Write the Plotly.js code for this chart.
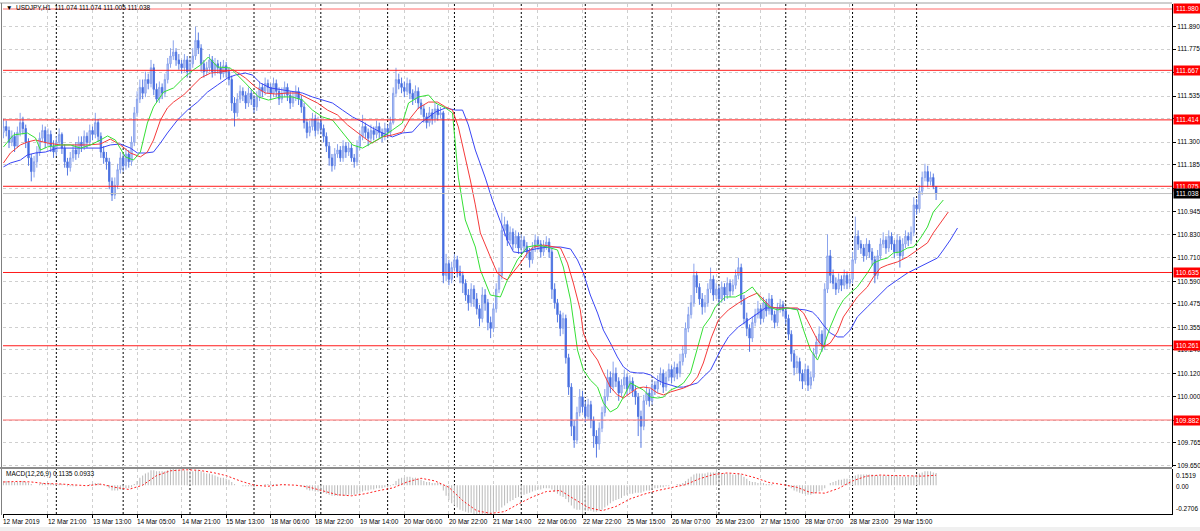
<!DOCTYPE html>
<html><head><meta charset="utf-8">
<script src="https://cdn.plot.ly/plotly-3.0.1.min.js"></script>
<style>html,body{margin:0;padding:0;background:#fff;overflow:hidden}#chart{width:1200px;height:531px}</style>
</head><body><div id="chart"></div>
<script>
const symbol = 'USDJPY,H1';
const open = [
111.35,111.38,111.36,111.30,111.33,111.28,111.35,111.40,111.37,111.30,
111.22,111.15,111.20,111.25,111.32,111.36,111.30,111.34,111.28,111.25,
111.30,111.34,111.27,111.20,111.17,111.22,111.26,111.24,111.30,111.28,
111.33,111.30,111.36,111.34,111.40,111.33,111.25,111.22,111.20,111.10,
111.03,111.08,111.16,111.22,111.18,111.24,111.20,111.30,111.45,111.52,
111.58,111.55,111.62,111.60,111.68,111.57,111.52,111.58,111.55,111.62,
111.70,111.74,111.76,111.72,111.70,111.68,111.72,111.66,111.70,111.74,
111.82,111.78,111.70,111.66,111.68,111.72,111.66,111.70,111.68,111.65,
111.69,111.66,111.62,111.50,111.45,111.52,111.56,111.54,111.50,111.55,
111.52,111.48,111.53,111.58,111.56,111.60,111.58,111.55,111.60,111.56,
111.52,111.55,111.58,111.54,111.50,111.53,111.56,111.52,111.48,111.40,
111.35,111.38,111.42,111.36,111.40,111.37,111.33,111.28,111.22,111.18,
111.24,111.26,111.22,111.28,111.25,111.27,111.22,111.20,111.28,111.33,
111.38,111.35,111.32,111.36,111.34,111.38,111.35,111.33,111.37,111.35,
111.40,111.55,111.62,111.60,111.58,111.56,111.60,111.55,111.52,111.56,
111.50,111.47,111.43,111.40,111.45,111.42,111.47,111.44,111.45,110.62,
110.68,110.60,110.66,110.70,110.64,110.62,110.58,110.52,110.48,110.55,
110.50,110.45,110.40,110.52,110.48,110.38,110.35,110.45,110.55,110.62,
110.85,110.88,110.80,110.84,110.78,110.82,110.76,110.80,110.77,110.74,
110.70,110.76,110.80,110.78,110.74,110.77,110.79,110.74,110.55,110.48,
110.42,110.35,110.40,110.20,110.05,109.85,109.78,109.92,110.00,109.95,
109.90,109.96,109.88,109.80,109.76,109.84,109.92,110.00,110.10,110.05,
110.12,110.08,110.02,110.06,110.10,110.04,110.08,110.03,110.00,109.90,
109.85,109.98,110.02,109.98,110.06,110.04,110.08,110.12,110.05,110.10,
110.14,110.10,110.15,110.12,110.18,110.22,110.35,110.42,110.48,110.62,
110.56,110.50,110.46,110.48,110.55,110.60,110.52,110.55,110.50,110.56,
110.52,110.58,110.54,110.57,110.62,110.66,110.50,110.40,110.35,110.30,
110.38,110.42,110.45,110.40,110.48,110.44,110.50,110.42,110.38,110.45,
110.47,110.44,110.40,110.32,110.22,110.15,110.18,110.12,110.08,110.14,
110.06,110.10,110.22,110.28,110.32,110.26,110.55,110.72,110.62,110.58,
110.55,110.60,110.57,110.62,110.58,110.60,110.70,110.82,110.78,110.76,
110.72,110.78,110.74,110.70,110.62,110.72,110.78,110.80,110.76,110.82,
110.78,110.74,110.80,110.72,110.78,110.82,110.80,110.84,110.98,110.96,
111.05,111.12,111.15,111.10,111.12,111.074];
const high = [
111.42,111.41,111.38,111.36,111.35,111.38,111.45,111.43,111.39,111.32,
111.24,111.23,111.28,111.35,111.39,111.38,111.37,111.36,111.31,111.33,
111.37,111.35,111.29,111.22,111.25,111.29,111.30,111.33,111.33,111.36,
111.35,111.39,111.38,111.45,111.42,111.35,111.28,111.25,111.22,111.12,
111.12,111.19,111.25,111.24,111.27,111.26,111.33,111.48,111.56,111.62,
111.62,111.66,111.65,111.72,111.70,111.60,111.61,111.60,111.65,111.73,
111.78,111.82,111.78,111.75,111.72,111.75,111.74,111.73,111.78,111.89,
111.86,111.80,111.72,111.71,111.75,111.74,111.73,111.72,111.71,111.72,
111.71,111.68,111.64,111.53,111.55,111.59,111.58,111.56,111.58,111.57,
111.54,111.56,111.61,111.60,111.63,111.62,111.60,111.63,111.62,111.58,
111.58,111.61,111.60,111.56,111.56,111.59,111.58,111.54,111.50,111.42,
111.41,111.45,111.44,111.43,111.42,111.39,111.35,111.30,111.24,111.27,
111.29,111.28,111.31,111.30,111.30,111.29,111.24,111.31,111.36,111.44,
111.40,111.37,111.39,111.38,111.41,111.40,111.37,111.40,111.39,111.43,
111.58,111.68,111.65,111.63,111.61,111.63,111.62,111.57,111.59,111.58,
111.52,111.49,111.45,111.48,111.47,111.50,111.49,111.48,111.46,110.73,
110.70,110.69,110.73,110.72,110.67,110.64,110.60,110.55,110.58,110.57,
110.53,110.47,110.56,110.55,110.50,110.41,110.48,110.58,110.66,110.94,
110.92,110.90,110.87,110.86,110.85,110.84,110.83,110.82,110.79,110.76,
110.79,110.83,110.82,110.80,110.80,110.82,110.81,110.76,110.58,110.50,
110.44,110.43,110.42,110.22,110.07,109.88,109.95,110.04,110.03,109.98,
109.99,109.98,109.90,109.83,109.87,109.95,110.04,110.14,110.13,110.18,
110.15,110.10,110.09,110.14,110.12,110.11,110.10,110.06,110.02,109.93,
110.01,110.06,110.04,110.09,110.08,110.11,110.15,110.14,110.13,110.17,
110.16,110.18,110.17,110.22,110.26,110.38,110.46,110.52,110.68,110.64,
110.58,110.53,110.52,110.58,110.66,110.62,110.58,110.57,110.59,110.58,
110.61,110.60,110.60,110.65,110.71,110.68,110.52,110.43,110.37,110.41,
110.45,110.49,110.47,110.51,110.50,110.53,110.52,110.44,110.48,110.50,
110.49,110.46,110.42,110.34,110.24,110.21,110.20,110.14,110.17,110.16,
110.13,110.25,110.31,110.36,110.34,110.58,110.83,110.75,110.65,110.61,
110.63,110.62,110.65,110.64,110.63,110.74,110.92,110.85,110.80,110.78,
110.81,110.80,110.76,110.72,110.75,110.81,110.84,110.82,110.85,110.84,
110.80,110.83,110.82,110.81,110.85,110.84,110.87,111.02,111.01,111.08,
111.15,111.19,111.18,111.15,111.14,111.074];
const low = [
111.32,111.33,111.27,111.28,111.25,111.27,111.33,111.34,111.27,111.18,
111.10,111.12,111.17,111.23,111.30,111.27,111.28,111.25,111.22,111.23,
111.28,111.24,111.17,111.13,111.15,111.20,111.21,111.22,111.25,111.26,
111.27,111.28,111.31,111.32,111.30,111.22,111.19,111.16,111.06,111.00,
111.01,111.06,111.14,111.15,111.16,111.17,111.18,111.28,111.43,111.50,
111.52,111.53,111.57,111.58,111.54,111.50,111.50,111.52,111.53,111.60,
111.68,111.72,111.69,111.67,111.65,111.66,111.63,111.64,111.68,111.72,
111.75,111.66,111.63,111.64,111.66,111.63,111.64,111.65,111.62,111.63,
111.63,111.59,111.46,111.38,111.43,111.50,111.51,111.47,111.48,111.49,
111.45,111.46,111.51,111.53,111.54,111.55,111.52,111.53,111.53,111.49,
111.50,111.53,111.51,111.47,111.48,111.51,111.49,111.45,111.37,111.32,
111.33,111.36,111.33,111.34,111.34,111.30,111.25,111.18,111.15,111.16,
111.22,111.20,111.20,111.22,111.23,111.20,111.17,111.18,111.26,111.31,
111.32,111.28,111.30,111.31,111.32,111.32,111.30,111.31,111.32,111.33,
111.39,111.53,111.57,111.55,111.53,111.54,111.52,111.49,111.50,111.47,
111.44,111.40,111.37,111.38,111.39,111.40,111.41,111.42,110.58,110.59,
110.57,110.58,110.64,110.61,110.58,110.53,110.49,110.44,110.46,110.46,
110.42,110.36,110.38,110.44,110.34,110.30,110.33,110.43,110.53,110.60,
110.82,110.77,110.78,110.75,110.76,110.73,110.74,110.74,110.71,110.66,
110.68,110.74,110.75,110.71,110.72,110.75,110.71,110.50,110.45,110.38,
110.31,110.32,110.17,110.01,109.80,109.74,109.76,109.90,109.92,109.87,
109.88,109.84,109.74,109.69,109.73,109.82,109.90,109.98,110.02,110.03,
110.05,109.98,110.00,110.04,110.01,110.02,110.00,109.96,109.80,109.74,
109.83,109.96,109.95,109.96,110.01,110.02,110.06,110.02,110.03,110.08,
110.07,110.08,110.09,110.10,110.16,110.20,110.33,110.40,110.46,110.53,
110.47,110.42,110.43,110.46,110.53,110.49,110.50,110.47,110.48,110.49,
110.50,110.51,110.52,110.55,110.60,110.47,110.37,110.31,110.23,110.28,
110.36,110.40,110.37,110.38,110.41,110.42,110.39,110.35,110.36,110.43,
110.41,110.37,110.29,110.18,110.11,110.12,110.08,110.04,110.06,110.03,
110.04,110.08,110.20,110.26,110.23,110.24,110.53,110.58,110.55,110.52,
110.53,110.54,110.55,110.55,110.56,110.58,110.68,110.75,110.73,110.69,
110.70,110.71,110.67,110.58,110.60,110.70,110.76,110.73,110.74,110.75,
110.71,110.72,110.66,110.70,110.76,110.77,110.78,110.82,110.93,110.94,
111.03,111.10,111.07,111.08,111.06,111.005];
const close = [
111.38,111.36,111.30,111.33,111.28,111.35,111.40,111.37,111.30,111.22,
111.15,111.20,111.25,111.32,111.36,111.30,111.34,111.28,111.25,111.30,
111.34,111.27,111.20,111.17,111.22,111.26,111.24,111.30,111.28,111.33,
111.30,111.36,111.34,111.40,111.33,111.25,111.22,111.20,111.10,111.03,
111.08,111.16,111.22,111.18,111.24,111.20,111.30,111.45,111.52,111.58,
111.55,111.62,111.60,111.68,111.57,111.52,111.58,111.55,111.62,111.70,
111.74,111.76,111.72,111.70,111.68,111.72,111.66,111.70,111.74,111.82,
111.78,111.70,111.66,111.68,111.72,111.66,111.70,111.68,111.65,111.69,
111.66,111.62,111.50,111.45,111.52,111.56,111.54,111.50,111.55,111.52,
111.48,111.53,111.58,111.56,111.60,111.58,111.55,111.60,111.56,111.52,
111.55,111.58,111.54,111.50,111.53,111.56,111.52,111.48,111.40,111.35,
111.38,111.42,111.36,111.40,111.37,111.33,111.28,111.22,111.18,111.24,
111.26,111.22,111.28,111.25,111.27,111.22,111.20,111.28,111.33,111.38,
111.35,111.32,111.36,111.34,111.38,111.35,111.33,111.37,111.35,111.40,
111.55,111.62,111.60,111.58,111.56,111.60,111.55,111.52,111.56,111.50,
111.47,111.43,111.40,111.45,111.42,111.47,111.44,111.45,110.62,110.68,
110.60,110.66,110.70,110.64,110.62,110.58,110.52,110.48,110.55,110.50,
110.45,110.40,110.52,110.48,110.38,110.35,110.45,110.55,110.62,110.85,
110.88,110.80,110.84,110.78,110.82,110.76,110.80,110.77,110.74,110.70,
110.76,110.80,110.78,110.74,110.77,110.79,110.74,110.55,110.48,110.42,
110.35,110.40,110.20,110.05,109.85,109.78,109.92,110.00,109.95,109.90,
109.96,109.88,109.80,109.76,109.84,109.92,110.00,110.10,110.05,110.12,
110.08,110.02,110.06,110.10,110.04,110.08,110.03,110.00,109.90,109.85,
109.98,110.02,109.98,110.06,110.04,110.08,110.12,110.05,110.10,110.14,
110.10,110.15,110.12,110.18,110.22,110.35,110.42,110.48,110.62,110.56,
110.50,110.46,110.48,110.55,110.60,110.52,110.55,110.50,110.56,110.52,
110.58,110.54,110.57,110.62,110.66,110.50,110.40,110.35,110.30,110.38,
110.42,110.45,110.40,110.48,110.44,110.50,110.42,110.38,110.45,110.47,
110.44,110.40,110.32,110.22,110.15,110.18,110.12,110.08,110.14,110.06,
110.10,110.22,110.28,110.32,110.26,110.55,110.72,110.62,110.58,110.55,
110.60,110.57,110.62,110.58,110.60,110.70,110.82,110.78,110.76,110.72,
110.78,110.74,110.70,110.62,110.72,110.78,110.80,110.76,110.82,110.78,
110.74,110.80,110.72,110.78,110.82,110.80,110.84,110.98,110.96,111.05,
111.12,111.15,111.10,111.12,111.074,111.038];

const tickBars = [0,16,32,48,64,80,96,112,128,144,160,176,192,208,224,240,256,272,288,304,320];
const tickLabels = ['12 Mar 2019','12 Mar 21:00','13 Mar 13:00','14 Mar 05:00','14 Mar 21:00','15 Mar 13:00','18 Mar 06:00','18 Mar 22:00','19 Mar 14:00','20 Mar 06:00','20 Mar 22:00','21 Mar 14:00','22 Mar 06:00','22 Mar 22:00','25 Mar 15:00','26 Mar 07:00','26 Mar 23:00','27 Mar 15:00','28 Mar 07:00','28 Mar 23:00','29 Mar 15:00'];
const daySeparators = [19,43,67,90,114,138,162,186,209,233,257,281,305,328];
const priceTicks = [111.890,111.775,111.655,111.535,111.420,111.300,111.185,111.065,110.945,110.830,110.710,110.590,110.475,110.355,110.240,110.120,110.000,109.880,109.765,109.650];
const levels = [111.980,111.667,111.414,111.075,110.635,110.261,109.882];
const bid = 111.038;

const lipsX = [0,3.6,8.6,11.5,13.3,15.8,20.5,24.1,27.7,31.3,34.8,37.4,40.2,43.8,46.7,49.2,51.7,53.9,57.5,61.1,64.7,68.2,70.8,73.6,76.9,81.5,86.9,91.6,95.2,99.5,103.8,107.4,111,114.6,118.2,121.8,125.4,129,132.5,136.1,139.7,143.3,145.5,149.1,152.7,155.2,158.8,161.3,163.4,165.9,169.5,171.3,174.9,178.5,181,184.6,188.2,191.8,195.4,199,201.1,203.7,206.2,208.3,210.8,213.4,215.5,218,220.5,222.7,225.2,227.7,229.9,232.4,234.9,237.1,239.6,242.1,244.3,246.8,249.3,251.4,254,255.7,259.3,262.9,266.5,269,271.9,274.8,278,281.6,285.2,287.4,289.9,292.4,294.5,297,299.6,301.7,304.2,306.7,310.3,312.5,315,317.5,319.7,322.2,324.7,326.9,329.4,331.9,334,336.6,337.6];
const lipsY = [111.276,111.337,111.347,111.322,111.260,111.276,111.286,111.286,111.270,111.286,111.311,111.332,111.311,111.225,111.209,111.250,111.398,111.480,111.556,111.577,111.628,111.669,111.694,111.735,111.684,111.679,111.602,111.531,111.515,111.531,111.531,111.515,111.464,111.429,111.413,111.347,111.286,111.270,111.296,111.327,111.362,111.398,111.500,111.531,111.541,111.500,111.475,111.449,111.122,110.903,110.765,110.648,110.520,110.510,110.597,110.699,110.765,110.775,110.765,110.750,110.663,110.495,110.239,110.137,110.086,110.050,109.969,109.923,109.943,109.999,110.071,110.050,110.035,109.999,109.994,109.999,110.035,110.050,110.071,110.122,110.255,110.357,110.408,110.459,110.510,110.510,110.535,110.561,110.505,110.459,110.444,110.454,110.444,110.341,110.239,110.188,110.255,110.357,110.444,110.495,110.530,110.561,110.632,110.683,110.699,110.709,110.735,110.740,110.760,110.765,110.811,110.867,110.944,110.990,111.005];
const teethX = [0,2.5,6.1,8.6,11.5,15.8,20.5,25.1,30.2,34.8,38.4,42,45.6,49.2,51.7,53.9,56.4,58.9,61.1,64.7,68.2,70.8,74.4,77.9,82.6,86.9,90.5,94.1,97.7,102,105.6,109.2,112.8,116.4,120,123.6,127.2,130.7,132.5,136.1,139.7,143.3,146.2,149.1,152.7,155.9,158.8,161.3,163.4,165.9,167.7,169.5,171.3,174.9,177.4,179.6,181,183.2,185.7,188.2,190.4,194,197.6,200.1,202.6,204.7,207.2,208.3,210.8,213.4,215.5,218,220.5,222.7,225.2,227.7,229.9,232.4,234.9,237.1,239.6,242.1,244.3,246.8,249.3,251.4,254.2,256.8,260.4,264,267.6,270.8,273,275.5,278,281.6,285.2,287.4,289.9,292.4,294.5,297,299.6,301.7,304.2,306.7,310.3,312.5,315,317.5,321.1,324.7,328.3,331.9,334,336.6,339.4];
const teethY = [111.194,111.245,111.286,111.301,111.311,111.296,111.286,111.286,111.286,111.291,111.316,111.286,111.245,111.225,111.250,111.311,111.413,111.475,111.505,111.541,111.592,111.628,111.653,111.658,111.669,111.628,111.582,111.551,111.546,111.551,111.551,111.526,111.500,111.464,111.439,111.388,111.347,111.311,111.296,111.327,111.337,111.352,111.424,111.475,111.505,111.505,111.480,111.464,111.378,111.225,111.107,110.980,110.837,110.714,110.632,110.607,110.597,110.638,110.683,110.735,110.765,110.775,110.765,110.760,110.683,110.581,110.444,110.326,110.239,110.188,110.122,110.050,110.010,109.994,110.020,110.045,110.050,110.045,110.020,110.010,110.025,110.035,110.045,110.061,110.102,110.173,110.300,110.392,110.444,110.479,110.510,110.530,110.495,110.459,110.454,110.454,110.454,110.428,110.357,110.290,110.255,110.275,110.331,110.408,110.459,110.510,110.561,110.612,110.658,110.673,110.689,110.714,110.750,110.786,110.837,110.888,110.944];
const jawX = [0,2.5,6.1,8.6,11.5,15.1,19.4,23,26.6,31.3,34.8,38.4,42,45.6,48.1,51,53.9,56.4,58.9,62.5,66.1,69.7,73.3,76.9,80.5,83.3,86.9,89.4,92.3,95.9,100.2,103.8,107.4,111,114.6,118.2,121.8,125.4,129,132.5,136.1,139.7,143.3,146.9,149.8,152.7,155.2,158.8,162.4,164.9,167,169.5,173.1,175.6,178.5,181,183.2,185.7,189.3,192.9,196.5,200.1,203.7,206.2,208.3,210.8,213.4,215.5,218,220.5,222.7,225.2,227.7,229.9,232.4,234.9,237.1,239.6,242.1,244.3,246.8,249.3,251.4,254,257.6,260.4,264,267.6,271.2,273.7,277.3,280.9,284.5,288.1,290.6,292.4,294.5,297,299.6,301.7,304.2,306.7,310.3,313.9,317.5,321.1,324.7,328.3,331.9,335.5,337.6,340.1,342.7];
const jawY = [111.174,111.194,111.209,111.235,111.245,111.250,111.270,111.270,111.270,111.270,111.270,111.286,111.291,111.270,111.245,111.245,111.250,111.296,111.347,111.413,111.464,111.505,111.556,111.592,111.628,111.643,111.653,111.643,111.602,111.577,111.567,111.556,111.551,111.531,111.515,111.500,111.464,111.429,111.403,111.373,111.347,111.327,111.347,111.352,111.398,111.429,111.454,111.475,111.464,111.464,111.388,111.260,111.117,111.005,110.893,110.801,110.740,110.735,110.750,110.760,110.765,110.765,110.755,110.699,110.632,110.520,110.428,110.341,110.275,110.204,110.153,110.127,110.122,110.122,110.112,110.086,110.071,110.061,110.050,110.050,110.061,110.071,110.102,110.137,110.239,110.306,110.357,110.392,110.428,110.454,110.454,110.454,110.449,110.444,110.433,110.408,110.367,110.326,110.306,110.306,110.341,110.408,110.459,110.510,110.561,110.597,110.632,110.658,110.683,110.709,110.750,110.801,110.862];

const macdMain = [
0.04,0.04,0.04,0.03,0.03,0.03,0.04,0.04,0.03,0.02,
0.01,0.00,0.00,0.01,0.02,0.02,0.02,0.02,0.01,0.01,
0.01,0.01,0.00,-0.01,-0.01,-0.01,-0.01,0.00,0.00,0.00,
0.00,0.01,0.01,0.02,0.02,0.01,0.00,-0.01,-0.03,-0.05,
-0.05,-0.05,-0.04,-0.04,-0.03,-0.03,-0.02,0.01,0.04,0.07,
0.09,0.11,0.12,0.14,0.14,0.13,0.13,0.13,0.13,0.14,
0.15,0.1519,0.15,0.14,0.14,0.14,0.13,0.13,0.13,0.14,
0.14,0.13,0.12,0.11,0.11,0.10,0.09,0.08,0.07,0.07,
0.06,0.05,0.03,0.01,0.00,0.00,-0.01,-0.01,-0.01,-0.01,
-0.02,-0.01,0.00,0.00,0.01,0.01,0.01,0.01,0.01,0.00,
0.00,0.01,0.00,0.00,0.00,0.00,0.00,-0.01,-0.02,-0.04,
-0.05,-0.05,-0.06,-0.06,-0.06,-0.07,-0.08,-0.09,-0.10,-0.10,
-0.10,-0.10,-0.10,-0.10,-0.09,-0.09,-0.09,-0.08,-0.07,-0.06,
-0.05,-0.05,-0.04,-0.04,-0.03,-0.03,-0.03,-0.02,-0.02,-0.01,
0.01,0.04,0.06,0.07,0.07,0.08,0.08,0.07,0.07,0.06,
0.05,0.04,0.03,0.03,0.02,0.02,0.02,0.02,-0.05,-0.10,
-0.14,-0.17,-0.19,-0.21,-0.23,-0.24,-0.25,-0.26,-0.26,-0.27,
-0.27,-0.27,-0.27,-0.27,-0.27,-0.2706,-0.26,-0.25,-0.24,-0.21,
-0.19,-0.17,-0.15,-0.14,-0.12,-0.11,-0.10,-0.09,-0.08,-0.07,
-0.06,-0.05,-0.04,-0.04,-0.03,-0.03,-0.03,-0.04,-0.06,-0.08,
-0.10,-0.11,-0.13,-0.16,-0.19,-0.22,-0.23,-0.23,-0.24,-0.24,
-0.24,-0.24,-0.25,-0.25,-0.24,-0.23,-0.21,-0.19,-0.17,-0.15,
-0.14,-0.13,-0.12,-0.10,-0.09,-0.08,-0.08,-0.07,-0.07,-0.07,
-0.06,-0.05,-0.05,-0.04,-0.03,-0.03,-0.02,-0.02,-0.01,-0.01,
0.00,0.00,0.01,0.01,0.02,0.04,0.06,0.08,0.10,0.11,
0.11,0.11,0.11,0.12,0.12,0.12,0.12,0.11,0.11,0.11,
0.11,0.11,0.10,0.10,0.11,0.10,0.08,0.06,0.04,0.03,
0.03,0.02,0.02,0.02,0.01,0.01,0.01,0.00,0.00,0.00,
0.00,0.00,-0.01,-0.03,-0.05,-0.06,-0.07,-0.08,-0.08,-0.09,
-0.09,-0.08,-0.07,-0.06,-0.05,-0.03,0.00,0.02,0.03,0.04,
0.05,0.05,0.06,0.06,0.06,0.07,0.09,0.10,0.10,0.10,
0.10,0.10,0.10,0.09,0.09,0.09,0.09,0.09,0.09,0.09,
0.09,0.09,0.08,0.08,0.08,0.08,0.08,0.09,0.10,0.11,
0.12,0.13,0.13,0.13,0.12,0.1135];
const signalX = [0,5,10,15,20,25,30,35,40,45,50,55,60,65,70,75,80,85,90,95,100,105,110,115,120,125,130,135,140,145,150,155,160,165,170,175,180,185,190,195,200,205,210,215,220,225,230,235,240,245,250,255,260,265,270,275,280,285,290,295,300,305,310,315,320,325,330,335];
const signalY = [0.03,0.035,0.03,0.015,0.012,0.0,-0.005,0.01,-0.02,-0.04,0.0,0.09,0.135,0.145,0.14,0.12,0.09,0.04,0.0,-0.01,0.005,0.0,-0.02,-0.055,-0.09,-0.10,-0.08,-0.05,-0.025,0.03,0.065,0.04,-0.02,-0.146,-0.24,-0.265,-0.248,-0.176,-0.11,-0.06,-0.05,-0.13,-0.21,-0.24,-0.20,-0.13,-0.085,-0.05,-0.02,0.005,0.06,0.10,0.115,0.105,0.07,0.025,0.005,-0.02,-0.07,-0.075,-0.03,0.04,0.085,0.095,0.09,0.085,0.085,0.0933];
const macdName = 'MACD(12,26,9)';
const macdNow = [0.1135, 0.0933];
const macdBounds = [-0.2706, 0.1519];

// ---------- layout helpers ----------
const W = 1200, H = 531;
const px = v => v / W;
const py = v => 1 - v / H;
const FONT = 'Liberation Sans, Arial, sans-serif';
const FS = 6.5;
const bars = close.map((_, i) => i);
const last = close.length - 1;
const mainTop = 4, mainBot = 467, macdTop = 469, macdBot = 514;
const pxPerUnit = 195.9;
const yTopVal = levels[0] + (9 - mainTop) / pxPerUnit;
const yBotVal = levels[0] - (mainBot - 9) / pxPerUnit;
const GRID = '#cfcfcf';

const traces = [
  {type:'candlestick', x:bars, open:open, high:high, low:low, close:close, xaxis:'x', yaxis:'y',
   increasing:{line:{color:'#8aa3ec', width:1}, fillcolor:'#c2cff6'},
   decreasing:{line:{color:'#5579e2', width:1}, fillcolor:'#2f5ddc'},
   whiskerwidth:0, hoverinfo:'skip', showlegend:false},
  {type:'scatter', mode:'lines', x:jawX, y:jawY, xaxis:'x', yaxis:'y', line:{color:'#3a46f5', width:1}, hoverinfo:'skip', showlegend:false},
  {type:'scatter', mode:'lines', x:teethX, y:teethY, xaxis:'x', yaxis:'y', line:{color:'#f53a3a', width:1}, hoverinfo:'skip', showlegend:false},
  {type:'scatter', mode:'lines', x:lipsX, y:lipsY, xaxis:'x', yaxis:'y', line:{color:'#35e035', width:1}, hoverinfo:'skip', showlegend:false},
  {type:'bar', x:bars, y:macdMain, xaxis:'x', yaxis:'y2', marker:{color:'#bdbdbd', line:{width:0}}, hoverinfo:'skip', showlegend:false},
  {type:'scatter', mode:'lines', x:signalX, y:signalY, xaxis:'x', yaxis:'y2', line:{color:'#ff2020', width:1, dash:'2px,2px'}, hoverinfo:'skip', showlegend:false}
];

const shapes = [];
shapes.push({type:'line', xref:'paper', yref:'paper', x0:0, x1:px(1172), y0:py(3), y1:py(3), line:{color:'#a0a0a0', width:1}, layer:'above'});
shapes.push({type:'line', xref:'paper', yref:'paper', x0:px(1.5), x1:px(1.5), y0:py(3), y1:py(515), line:{color:'#808080', width:1}, layer:'above'});
shapes.push({type:'rect', xref:'paper', yref:'paper', x0:0, x1:1, y0:0, y1:py(527), fillcolor:'#f0f0f0', line:{width:0}, layer:'below'});
daySeparators.forEach(b => shapes.push({type:'line', xref:'x', yref:'paper', x0:b, x1:b, y0:py(macdBot), y1:py(mainTop), line:{color:'#000', width:1, dash:'2px,2px'}, layer:'below'}));
levels.forEach((v, k) => shapes.push({type:'line', xref:'paper', yref:'y', x0:px(3), x1:px(1172), y0:v, y1:v,
  line:{color:(k === 0 || k === levels.length - 1) ? '#ff6a6a' : '#ff1a1a', width:1}, layer:'above'}));
shapes.push({type:'line', xref:'paper', yref:'y', x0:px(3), x1:px(1172), y0:bid, y1:bid, line:{color:'#c0c0c0', width:1}, layer:'above'});
shapes.push({type:'line', xref:'paper', yref:'paper', x0:0, x1:px(1172), y0:py(468), y1:py(468), line:{color:'#8c8c8c', width:2}, layer:'above'});

const annotations = [];
const f = (c) => ({family:FONT, size:FS, color:c});
annotations.push({xref:'paper', yref:'paper', x:px(4), y:py(7.5), xanchor:'left', yanchor:'middle', showarrow:false,
  text:'\u25BC  ' + symbol + '  ' + [open[last], high[last], low[last], close[last]].map(v => v.toFixed(3)).join(' '), font:f('#000')});
levels.forEach(v => annotations.push({xref:'paper', yref:'y', x:px(1173), y:v, xanchor:'left', yanchor:'middle', showarrow:false,
  text:v.toFixed(3), font:f('#fff'), bgcolor:'#ff0000', borderpad:1, width:25, align:'center'}));
annotations.push({xref:'paper', yref:'y', x:px(1173), y:bid, xanchor:'left', yanchor:'middle', showarrow:false,
  text:bid.toFixed(3), font:f('#fff'), bgcolor:'#000000', borderpad:1, width:25, align:'center'});
tickBars.forEach((b, k) => annotations.push({xref:'x', yref:'paper', x:b, y:py(521), xanchor:'left', yanchor:'middle', showarrow:false,
  text:tickLabels[k], font:f('#000'), xshift:-2}));
annotations.push({xref:'paper', yref:'paper', x:px(4), y:py(474), xanchor:'left', yanchor:'middle', showarrow:false,
  text:macdName + ' ' + macdNow.map(v => v.toFixed(4)).join(' '), font:f('#000')});
annotations.push({xref:'paper', yref:'paper', x:px(1174), y:py(475), xanchor:'left', yanchor:'middle', showarrow:false, text:macdBounds[1].toFixed(4), font:f('#000')});
annotations.push({xref:'paper', yref:'y2', x:px(1174), y:0, xanchor:'left', yanchor:'middle', showarrow:false, text:(0).toFixed(2), font:f('#000'), yshift:-1});
annotations.push({xref:'paper', yref:'paper', x:px(1174), y:py(508), xanchor:'left', yanchor:'middle', showarrow:false, text:macdBounds[0].toFixed(4), font:f('#000')});

const layout = {
  width:W, height:H, margin:{l:0, r:0, t:0, b:0}, paper_bgcolor:'#ffffff', plot_bgcolor:'#ffffff',
  showlegend:false, bargap:0.62, dragmode:false,
  xaxis:{domain:[px(3), px(1172)], range:[-0.16, 419.74], anchor:'y2', tickvals:tickBars, showticklabels:false,
    ticks:'outside', ticklen:3, tickcolor:'#000', showline:true, linecolor:'#000', linewidth:1,
    showgrid:true, gridcolor:GRID, griddash:'3px,3px', gridwidth:1, zeroline:false, rangeslider:{visible:false}, fixedrange:true},
  yaxis:{domain:[py(mainBot), py(mainTop)], range:[yBotVal, yTopVal], side:'right', anchor:'x',
    tickvals:priceTicks, ticktext:priceTicks.map(v => v.toFixed(3)), ticks:'outside', ticklen:3, tickcolor:'#000',
    tickfont:{family:FONT, size:FS, color:'#000'}, showline:true, linecolor:'#000', linewidth:1,
    showgrid:true, gridcolor:GRID, griddash:'3px,3px', gridwidth:1, zeroline:false, fixedrange:true},
  yaxis2:{domain:[py(macdBot), py(macdTop)], range:[macdBounds[0], macdBounds[1]], side:'right', anchor:'x',
    showticklabels:false, ticks:'', showline:true, linecolor:'#000', linewidth:1, showgrid:false, zeroline:false, fixedrange:true},
  shapes:shapes, annotations:annotations
};
Plotly.newPlot('chart', traces, layout, {staticPlot:true, displayModeBar:false});
</script></body></html>
